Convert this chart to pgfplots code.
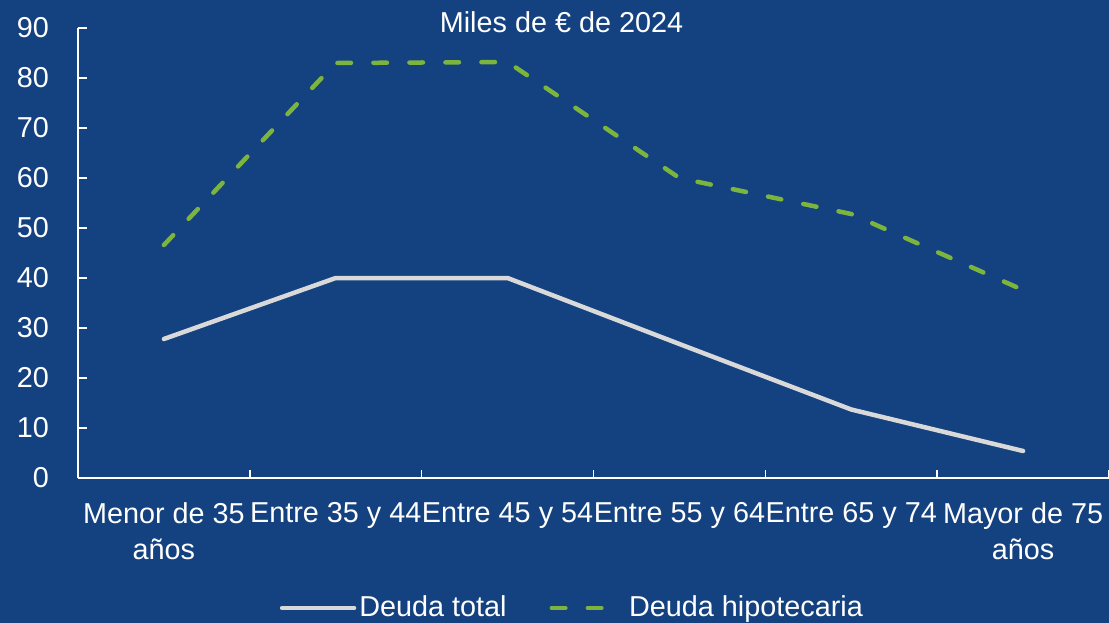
\documentclass[border=0pt]{standalone}
\usepackage{fontspec}
\setmainfont{Liberation Sans}
\usepackage{pgfplots}
\pgfplotsset{compat=1.18}
\definecolor{bg}{RGB}{20,65,127}
\definecolor{verde}{RGB}{124,181,62}
\definecolor{gris}{RGB}{217,217,217}
\pgfplotsset{
  leglong/.style={legend image code/.code={\draw[##1] (0pt,0pt) -- (72pt,0pt);}},
}
\begin{document}
\fontsize{28.8}{36}\selectfont
\begin{tikzpicture}
\fill[bg] (0,0) rectangle (1109pt,-623pt);
\useasboundingbox (0,0) rectangle (1109pt,-623pt);
\begin{axis}[
 at={(78pt,-478pt)}, anchor=south west,
 scale only axis, width=1031pt, height=450pt,
 xmin=-0.5, xmax=5.5, ymin=0, ymax=90,
 axis lines*=left,
 axis line style={white, line width=2pt},
 tick align=inside,
 major tick length=8.5pt,
 tick style={white, line width=1.6pt},
 xtick={-0.5,0.5,...,5.5},
 x tick label as interval,
 xticklabels={{Menor de 35\\años},{Entre 35 y 44},{Entre 45 y 54},{Entre 55 y 64},{Entre 65 y 74},{Mayor de 75\\años}},
 ytick={0,10,...,90},
 /pgf/number format/assume math mode=true,
 ticklabel style={white},
 xticklabel style={align=center, inner sep=0pt, yshift=-24pt},
 yticklabel style={inner sep=0pt, xshift=-29pt},
 title={Miles de € de 2024},
 title style={at={(0.469,1)}, anchor=base, yshift=-10pt, inner sep=0pt, text=white},
 legend style={at={(0.48,-0.289)}, anchor=center, draw=none, fill=none, text=white,
   legend columns=2, nodes={inner sep=3pt},
   /tikz/every even column/.append style={column sep=40pt}},
 legend cell align=left,
 clip=false,
]
\addplot[gris, line width=4.5pt, line cap=round, line join=round, leglong]
  coordinates {(0,27.8) (1,40.0) (2,40.0) (3,26.8) (4,13.7) (5,5.4)};
\addlegendentry{Deuda total}
\addplot[verde, line width=4.5pt, line cap=round, line join=round, dash pattern=on 13.5pt off 22.5pt, leglong]
  coordinates {(0,46.6) (1,83.0) (2,83.2) (3,60.0) (4,52.8) (5,37.6)};
\addlegendentry{Deuda hipotecaria}
\end{axis}
\end{tikzpicture}
\end{document}
